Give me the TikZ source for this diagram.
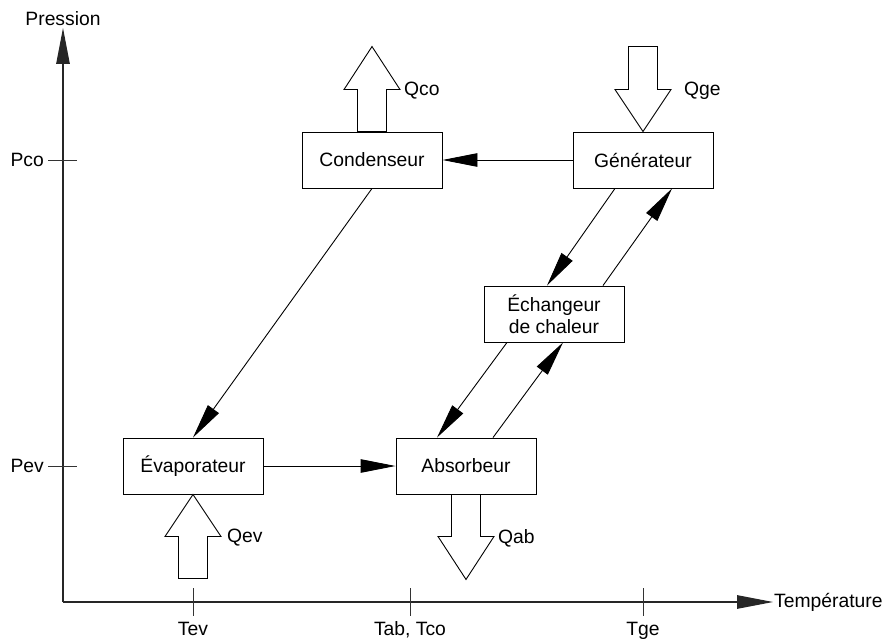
\documentclass[tikz,border=0pt]{standalone}
\usepackage{fontspec}
\setmainfont{Liberation Sans}
\usetikzlibrary{arrows.meta}

\begin{document}
\begin{tikzpicture}[
  x=1pt, y=1pt,
  font=\fontsize{19.3}{22}\selectfont,
  box/.style = {shape=rectangle, draw, line width=0.9pt,
    minimum width=140pt, minimum height=56pt, align=center},
  flow/.style = {line width=0.9pt, -{Triangle[length=35pt,width=13.5pt]}},
  axis/.style = {line width=1.1pt, black!85, -{Triangle[length=36pt,width=13.5pt]}},
  heat/.style = {line width=0.9pt, fill=white}
  ]
  \useasboundingbox (0,0) rectangle (886,641);

  % axes
  \coordinate (origin) at (63,39);
  \coordinate (ptop) at (63,613);
  \coordinate (tright) at (773,39);
  \draw[axis] (origin) -- (ptop);
  \draw[axis] (origin) -- (tright);
  \node[anchor=base] (pression) at (63,615) {Pression};
  \node[anchor=west, inner sep=1pt] (temp) at (tright) {Température};

  % ticks
  \foreach \y/\name in {481/Pco, 175/Pev} {
    \draw[line width=0.9pt, black!80] (48,\y) -- (77,\y);
    \node[anchor=east, inner sep=2pt] (tick\name) at (46,\y) {\name};
  }
  \foreach \x/\name/\txt in {193/Tev/Tev, 410/Tab/{Tab, Tco}, 643/Tge/Tge} {
    \draw[line width=0.9pt, black!80] (\x,53) -- (\x,25);
    \node[anchor=base] (tick\name) at (\x,6) {\txt};
  }

  % components
  \node[box] (cond) at (372,481) {Condenseur};
  \node[box] (gen) at (643,481) {Générateur};
  \node[box] (evap) at (193,175) {Évaporateur};
  \node[box] (abs) at (466,175) {Absorbeur};
  \node[box] (ech) at (554,327) {Échangeur\\de chaleur};

  % flows
  \draw[flow] (gen.west) -- (cond.east);
  \draw[flow] (evap.east) -- (abs.west);
  \draw[flow] (cond.south) -- (evap.north);
  \draw[flow] ([xshift=-28pt]gen.south) -- ([xshift=-7pt]ech.north);
  \draw[flow] ([xshift=49pt]ech.north) -- ([xshift=29pt]gen.south);
  \draw[flow] ([xshift=-47pt]ech.south) -- ([xshift=-29pt]abs.north);
  \draw[flow] ([xshift=27pt]abs.north) -- ([xshift=9pt]ech.south);

  % heat exchanged
  \draw[heat] ([xshift=-14.5pt]cond.north) -- ++(0,42) -- ++(-13.5,0)
    -- ++(28,43) -- ++(28,-43) -- ++(-13.5,0) -- ++(0,-42) -- cycle;
  \draw[heat] (gen.north) -- ++(-28,42) -- ++(13.5,0) -- ++(0,43)
    -- ++(29,0) -- ++(0,-43) -- ++(13.5,0) -- cycle;
  \draw[heat] (evap.south) -- ++(-28,-42) -- ++(13.5,0) -- ++(0,-42)
    -- ++(29,0) -- ++(0,42) -- ++(13.5,0) -- cycle;
  \draw[heat] ([xshift=-14.5pt]abs.south) -- ++(0,-42) -- ++(-13.5,0)
    -- ++(28,-43) -- ++(28,43) -- ++(-13.5,0) -- ++(0,42) -- cycle;
  \node[anchor=west, inner sep=1pt] (qco) at (403,550) {Qco};
  \node[anchor=west, inner sep=1pt] (qge) at (683,550) {Qge};
  \node[anchor=west, inner sep=1pt] (qev) at (226,103) {Qev};
  \node[anchor=west, inner sep=1pt] (qab) at (497,103) {Qab};
\end{tikzpicture}
\end{document}
